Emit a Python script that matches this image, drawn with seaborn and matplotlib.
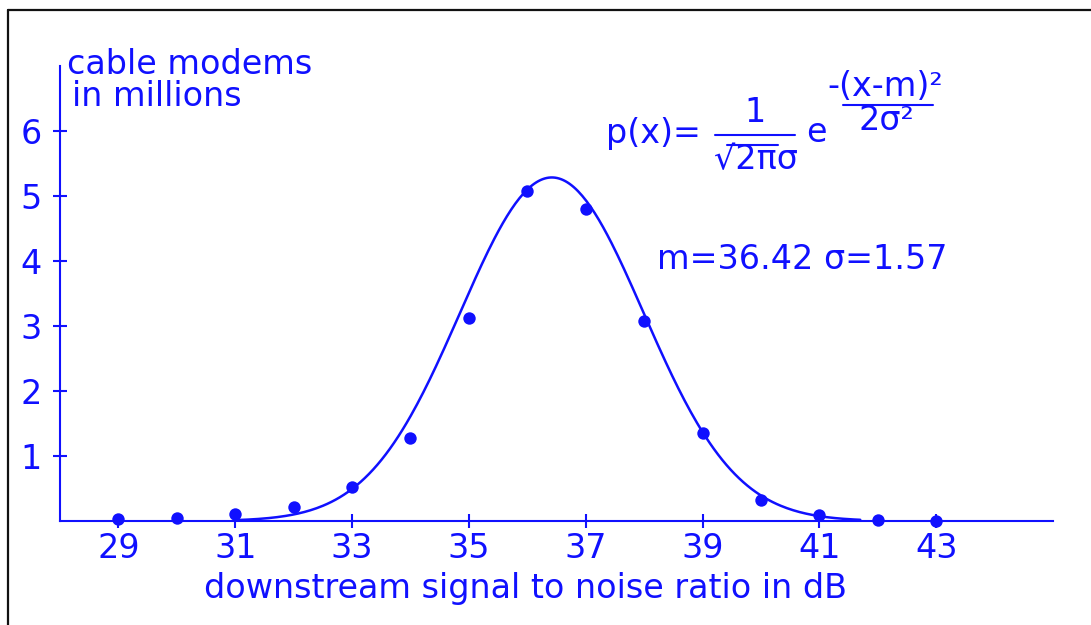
import numpy as np
import pandas as pd
import seaborn as sns
import matplotlib.pyplot as plt
from matplotlib.lines import Line2D

# measured counts (millions) per SNR value
snr = [29, 30, 31, 32, 33, 34, 35, 36, 37, 38, 39, 40, 41, 42, 43]
modems = [0.03, 0.05, 0.11, 0.22, 0.52, 1.28, 3.12, 5.08, 4.80, 3.07, 1.36, 0.33, 0.09, 0.02, 0.0]

# fitted normal curve parameters
m = 36.42
sigma = 1.57
total = 20.8          # millions, area under the fit
fit_from, fit_to = 31.0, 41.7

xticks = [29, 31, 33, 35, 37, 39, 41, 43]
yticks = [1, 2, 3, 4, 5, 6]

blue = '#1010ff'
W, H = 1091, 625

sns.set_theme(style='white')
plt.rcParams['font.family'] = ['DejaVu Sans']

fig = plt.figure(figsize=(W / 100, H / 100), dpi=100)
ax = fig.add_axes([60 / W, 1 - 521 / H, (1053 - 60) / W, (521 - 66) / H])

points = pd.DataFrame({'snr': snr, 'modems': modems})
xs = np.linspace(fit_from, fit_to, 300)
curve = pd.DataFrame({'snr': xs,
                      'modems': total / (np.sqrt(2 * np.pi) * sigma) * np.exp(-(xs - m) ** 2 / (2 * sigma ** 2))})

sns.lineplot(data=curve, x='snr', y='modems', color=blue, lw=1.8, ax=ax, zorder=3)
sns.scatterplot(data=points, x='snr', y='modems', color=blue, s=80, linewidth=0, ax=ax, zorder=4, clip_on=False)

ax.set_xlim(28, 45)
ax.set_ylim(0, 7)
ax.set_xticks(xticks)
ax.set_yticks(yticks)
ax.tick_params(bottom=True, left=True, direction='inout', length=10, width=1.5,
               color=blue, labelcolor=blue, labelsize=24)
ax.tick_params(axis='x', pad=3)
ax.tick_params(axis='y', pad=8)
ax.set_xlabel('downstream signal to noise ratio in dB', color=blue, fontsize=24)
ax.xaxis.set_label_coords((526 - 60) / 993, -0.112)
ax.set_ylabel('')

for side in ['top', 'right']:
    ax.spines[side].set_visible(False)
for side in ['left', 'bottom']:
    ax.spines[side].set_color(blue)
    ax.spines[side].set_linewidth(1.5)
ax.patch.set_alpha(0)


def px(x, y):
    return x / W, 1 - y / H


fs = 24
fig.text(*px(67, 65), 'cable modems', color=blue, fontsize=fs, va='center', ha='left')
fig.text(*px(72, 97), 'in millions', color=blue, fontsize=fs, va='center', ha='left')

# formula
fig.text(*px(606, 133), 'p(x)=', color=blue, fontsize=fs, va='center', ha='left')
fig.text(*px(755, 113), '1', color=blue, fontsize=fs, va='center', ha='center')
fig.add_artist(Line2D([715 / W, 795 / W], [1 - 135 / H] * 2, color=blue, lw=1.5))
fig.text(*px(756, 160), '√2πσ', color=blue, fontsize=fs, va='center', ha='center')
fig.add_artist(Line2D([727 / W, 778 / W], [1 - 145 / H] * 2, color=blue, lw=1.5))
fig.text(*px(816, 133), 'e', color=blue, fontsize=fs, va='center', ha='center')
fig.text(*px(885, 87), '-(x-m)²', color=blue, fontsize=fs, va='center', ha='center')
fig.add_artist(Line2D([843 / W, 933 / W], [1 - 105 / H] * 2, color=blue, lw=1.5))
fig.text(*px(886, 121), '2σ²', color=blue, fontsize=fs, va='center', ha='center')

fig.text(*px(802, 260), f'm={m} σ={sigma}', color=blue, fontsize=fs, va='center', ha='center')

# frame (top and left edges visible)
fig.add_artist(Line2D([8 / W, 1.0], [1 - 10 / H] * 2, color='#111111', lw=1.6))
fig.add_artist(Line2D([8 / W, 8 / W], [1 - 10 / H, 0.0], color='#111111', lw=1.6))

fig.savefig('out.png', dpi=100)
